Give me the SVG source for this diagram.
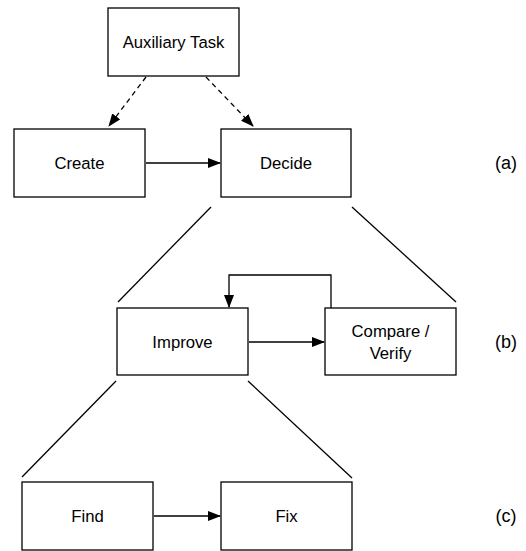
<svg xmlns="http://www.w3.org/2000/svg" width="526" height="551" viewBox="0 0 526 551">
<style>
.box{fill:#fff;stroke:#000;stroke-width:1.3}
.t{font-family:"Liberation Sans",Arial,sans-serif;font-size:16.7px;fill:#000;text-anchor:middle;dominant-baseline:central}
.lbl{font-family:"Liberation Sans",Arial,sans-serif;font-size:18px;fill:#000;text-anchor:middle;dominant-baseline:central}
.c{fill:none;stroke:#000;stroke-width:1.3}
.d{stroke-dasharray:5 4}
</style>
<defs>
<marker id="ah" markerWidth="13" markerHeight="10" refX="12" refY="5" orient="auto" markerUnits="userSpaceOnUse">
<path d="M0,0 L13,5 L0,10 Z" fill="#000"/>
</marker>
</defs>
<g id="connectors">
<line class="c d" x1="146" y1="77" x2="109" y2="126" marker-end="url(#ah)"/>
<line class="c d" x1="206" y1="77" x2="253" y2="126" marker-end="url(#ah)"/>
<line class="c" x1="146" y1="163" x2="220" y2="163" marker-end="url(#ah)"/>
<line class="c" x1="211" y1="207" x2="118" y2="302"/>
<line class="c" x1="352" y1="207" x2="456" y2="302"/>
<line class="c" x1="249" y1="342" x2="324" y2="342" marker-end="url(#ah)"/>
<polyline class="c" points="331,308 331,275 229,275 229,307" marker-end="url(#ah)"/>
<line class="c" x1="116" y1="381" x2="22" y2="477"/>
<line class="c" x1="248" y1="381" x2="352" y2="478"/>
<line class="c" x1="154" y1="516" x2="220" y2="516" marker-end="url(#ah)"/>
</g>
<g id="aux"><rect class="box" x="108" y="8" width="131" height="68"/><text class="t" x="173.5" y="42">Auxiliary Task</text></g>
<g id="create"><rect class="box" x="14" y="129" width="131" height="68"/><text class="t" x="79.5" y="163">Create</text></g>
<g id="decide"><rect class="box" x="221" y="129" width="130" height="68"/><text class="t" x="286" y="163">Decide</text></g>
<g id="improve"><rect class="box" x="117" y="308" width="131" height="67"/><text class="t" x="182.5" y="342">Improve</text></g>
<g id="compare"><rect class="box" x="325" y="308" width="131" height="67"/><text class="t" x="390.5" y="331">Compare /</text><text class="t" x="390.5" y="353">Verify</text></g>
<g id="find"><rect class="box" x="22" y="482" width="131" height="68"/><text class="t" x="87.5" y="516">Find</text></g>
<g id="fix"><rect class="box" x="221" y="482" width="131" height="68"/><text class="t" x="286.5" y="516">Fix</text></g>
<text class="lbl" x="506" y="163">(a)</text>
<text class="lbl" x="506" y="342">(b)</text>
<text class="lbl" x="506" y="516">(c)</text>
</svg>
